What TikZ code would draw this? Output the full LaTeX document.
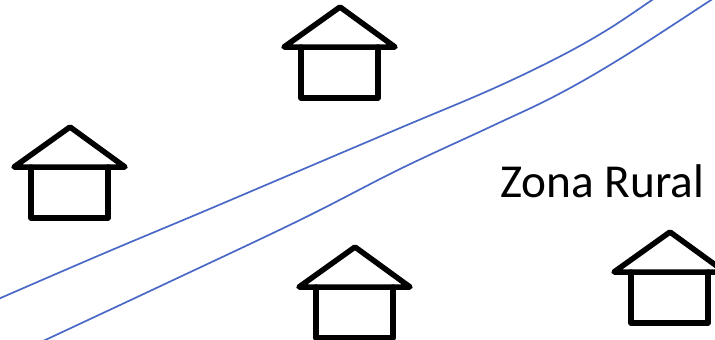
\documentclass[tikz,border=0pt]{standalone}
\usepackage{fontspec}
\setmainfont{Carlito}
\newcommand{\cabin}[2]{%
  \begin{scope}[shift={(#1,#2)}]
    \draw[housepen] (-56,40) -- (0,0) -- (55,40) -- cycle;
    \draw[housepen] (-39,40) -- (-39,91) -- (38,91) -- (38,40);
  \end{scope}}
\tikzset{
  housepen/.style={draw=black,line width=5.5pt,line join=round,line cap=round},
  road/.style={draw=roadblue,line width=1.7pt,smooth,tension=0.6},
  label/.style={inner sep=0pt,anchor=base west,font=\fontsize{47.3}{56}\selectfont}
}
\definecolor{roadblue}{HTML}{4A69C6}
\begin{document}
\begin{tikzpicture}[x=1pt,y=-1pt]
  \useasboundingbox (0,0) rectangle (715,340);
  \clip (0,0) rectangle (715,340);
  \draw[road] plot coordinates {(-4,300) (100,255) (200,213) (280,179) (400,128) (490,90) (557,58) (607,30) (652,0) (658,-4)};
  \draw[road] plot coordinates {(41,342) (167,283) (300,220) (400,169) (490,127) (557,95) (623,57) (711,0) (717,-4)};
  \cabin{70}{127}
  \cabin{340}{7}
  \cabin{355}{247}
  \cabin{670}{232}
  \node[label] (zona) at (500,197) {Zona Rural};
\end{tikzpicture}
\end{document}
